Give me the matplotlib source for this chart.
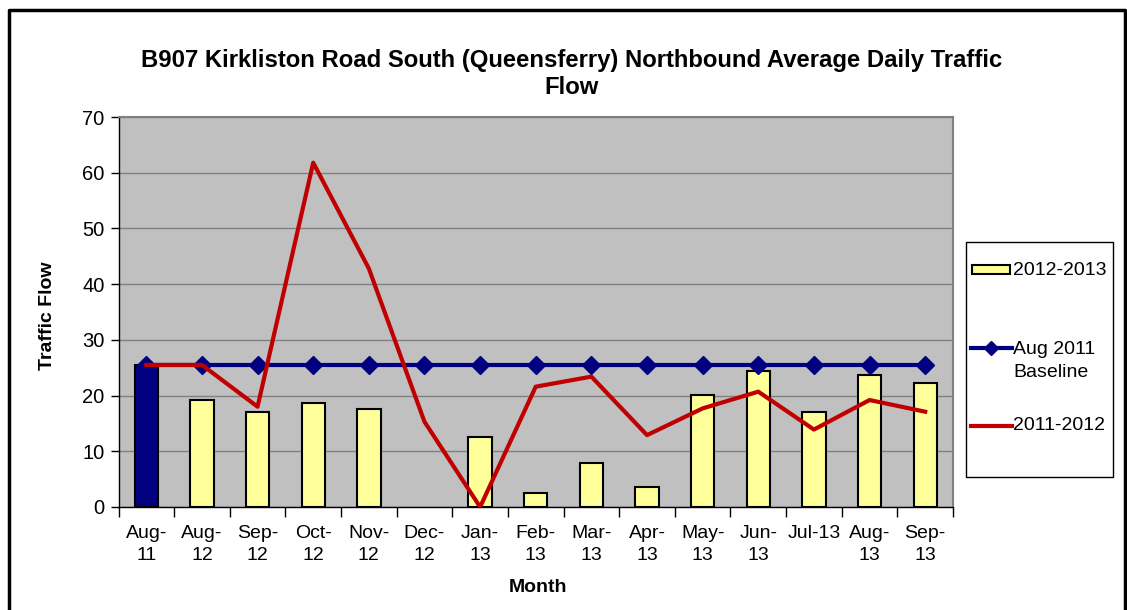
import numpy as np
import matplotlib
matplotlib.use("Agg")
import matplotlib.pyplot as plt
from matplotlib.patches import Rectangle
from matplotlib.lines import Line2D

plt.rcParams['font.family'] = ['Liberation Sans', 'DejaVu Sans']

categories = ["Aug-\n11", "Aug-\n12", "Sep-\n12", "Oct-\n12", "Nov-\n12", "Dec-\n12",
              "Jan-\n13", "Feb-\n13", "Mar-\n13", "Apr-\n13", "May-\n13", "Jun-\n13",
              "Jul-13", "Aug-\n13", "Sep-\n13"]
flow_2012_2013 = [25.5, 19.2, 17.1, 18.7, 17.6, np.nan, 12.6, 2.5, 7.9, 3.6,
                  20.1, 24.4, 17.1, 23.7, 22.3]
baseline_aug_2011 = [25.5] * 15
flow_2011_2012 = [25.5, 25.5, 18.0, 61.8, 42.8, 15.3, 0.0, 21.6, 23.4, 12.9,
                  17.7, 20.7, 13.9, 19.2, 17.1]
y_ticks = [0, 10, 20, 30, 40, 50, 60, 70]

W, H = 1127, 610
fig = plt.figure(figsize=(W / 100, H / 100), dpi=100)
fig.patch.set_facecolor('white')

def fx(px):
    return px / W

def fy(py):
    return 1 - py / H

ax = fig.add_axes([fx(118.5), fy(507), fx(953) - fx(118.5), fy(117) - fy(507)])
ax.set_facecolor('#C0C0C0')

x = np.arange(len(categories))
bar_colors = ['#000080'] + ['#FFFF99'] * (len(categories) - 1)
ax.bar(x, flow_2012_2013, width=0.42, color=bar_colors, edgecolor='black',
       linewidth=1.5, zorder=3)
ax.plot(x, baseline_aug_2011, color='#000080', linewidth=3, marker='D',
        markersize=9, zorder=4)
ax.plot(x, flow_2011_2012, color='#C00000', linewidth=3, zorder=5)

ax.set_xlim(-0.5, len(categories) - 0.5)
ax.set_ylim(0, 70)
ax.set_yticks(y_ticks)
ax.yaxis.grid(True, color='#808080', linewidth=1)
ax.set_axisbelow(True)
ax.tick_params(axis='y', direction='out', length=6, width=1, labelsize=14.5, pad=4)

ax.set_xticks(x)
ax.set_xticklabels(categories, fontsize=14, linespacing=1.35)
ax.set_xticks(np.arange(-0.5, len(categories), 1), minor=True)
ax.tick_params(axis='x', which='major', length=0, pad=13)
ax.tick_params(axis='x', which='minor', direction='out', length=7, width=1)

for s in ['top', 'right']:
    ax.spines[s].set_color('#808080')
    ax.spines[s].set_linewidth(1.5)
for s in ['left', 'bottom']:
    ax.spines[s].set_color('black')
    ax.spines[s].set_linewidth(1)

fig.text(fx(572), fy(74), "B907 Kirkliston Road South (Queensferry) Northbound Average Daily Traffic\nFlow",
         ha='center', va='center', fontsize=17.2, fontweight='bold', linespacing=1.25)
fig.text(fx(48), fy(316), "Traffic Flow", rotation=90, ha='center', va='center',
         fontsize=14, fontweight='bold')
fig.text(fx(538), fy(588), "Month", ha='center', va='center', fontsize=14,
         fontweight='bold')

# legend (manual, matching the boxed Excel legend)
fig.add_artist(Rectangle((fx(966), fy(477)), fx(1113) - fx(966), fy(242) - fy(477),
                         transform=fig.transFigure, facecolor='white',
                         edgecolor='black', linewidth=1))
fig.add_artist(Rectangle((fx(972), fy(274)), fx(1010) - fx(972), fy(265) - fy(274),
                         transform=fig.transFigure, facecolor='#FFFF99',
                         edgecolor='black', linewidth=1.5))
fig.text(fx(1013), fy(270), "2012-2013", ha='left', va='center', fontsize=14)
fig.add_artist(Line2D([fx(971), fx(1012)], [fy(348), fy(348)], transform=fig.transFigure,
                      color='#000080', linewidth=3))
fig.add_artist(Line2D([fx(991)], [fy(348)], transform=fig.transFigure,
                      color='#000080', marker='D', markersize=7))
fig.text(fx(1013), fy(361), "Aug 2011\nBaseline", ha='left', va='center', fontsize=14,
         linespacing=1.4)
fig.add_artist(Line2D([fx(971), fx(1012)], [fy(426), fy(426)], transform=fig.transFigure,
                      color='#C00000', linewidth=3))
fig.text(fx(1013), fy(426), "2011-2012", ha='left', va='center', fontsize=14)

# outer chart border
fig.add_artist(Line2D([fx(9), fx(9), fx(1124.5), fx(1124.5)],
                      [0, fy(10), fy(10), 0], transform=fig.transFigure,
                      color='black', linewidth=2.5))

fig.savefig("out.png", dpi=100)
